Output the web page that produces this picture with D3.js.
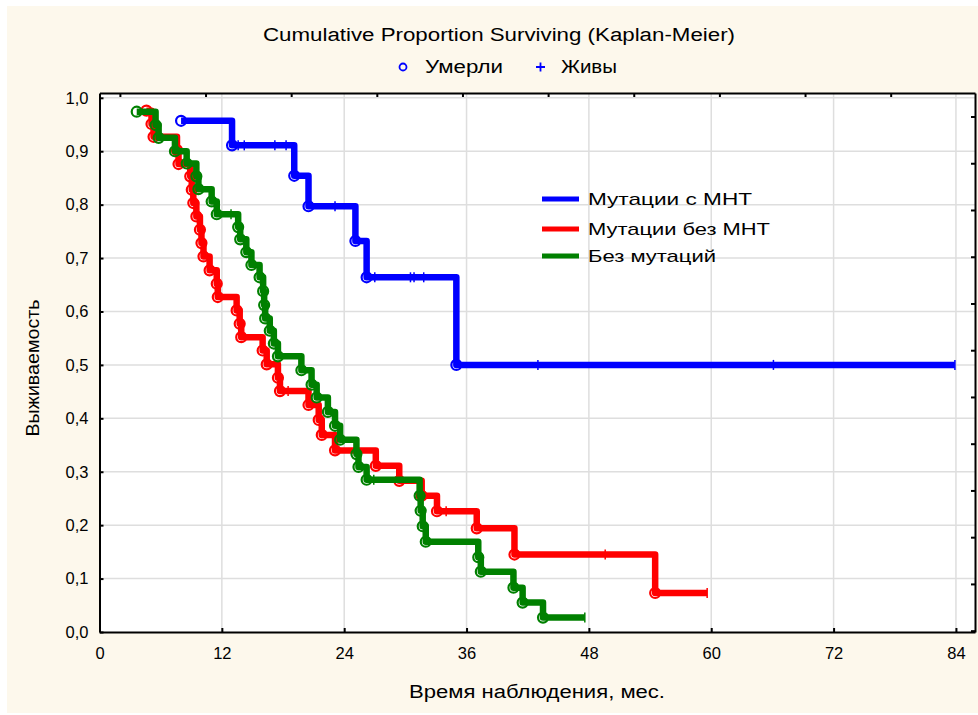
<!DOCTYPE html>
<html>
<head>
<meta charset="utf-8">
<script src="https://cdn.jsdelivr.net/npm/d3@7"></script>
<style>
  body { margin: 0; background: #fff; }
  svg { display: block; font-family: "Liberation Sans", Arial, sans-serif; }
</style>
</head>
<body>
<svg id="chart" width="978" height="715"></svg>
<script>
// step points: time (months) and survival after the step
const blueTimes = [8.0, 13.0, 19.1, 20.5, 25.1, 26.2, 35.0];
const blueSurv = [0.957, 0.911, 0.854, 0.797, 0.732, 0.664, 0.5];
const blueCensor = [13.6, 14.2, 17.2, 18.3, 23.1, 27.0, 30.5, 30.85, 31.8, 43.0, 66.1, 83.9];
const blueEnd = 83.9;

const redTimes = [4.6, 5.1, 5.3, 7.6, 7.75, 8.9, 9.05, 9.2, 9.5, 9.85, 10.0, 10.2, 10.8, 11.5, 11.6,
  13.45, 13.75, 13.9, 16.0, 16.4, 17.5, 17.7, 20.5, 21.5, 21.8, 23.1, 27.1, 29.4, 31.6, 33.1, 37.0, 40.7, 54.5];
const redSurv = [0.976, 0.951, 0.927, 0.902, 0.876, 0.853, 0.828, 0.803, 0.778, 0.753, 0.728, 0.703, 0.677, 0.652, 0.627,
  0.602, 0.577, 0.552, 0.527, 0.501, 0.476, 0.451, 0.425, 0.397, 0.369, 0.340, 0.311, 0.283, 0.255, 0.226, 0.194, 0.145, 0.073];
const redCensor = [18.5, 34.0, 49.6, 59.6];
const redEnd = 59.6;

const greenTimes = [3.65, 5.5, 5.8, 7.4, 8.55, 9.5, 9.7, 11.0, 11.5, 13.6, 13.8, 14.4, 14.9, 15.7, 16.05,
  16.15, 16.25, 16.7, 17.1, 17.5, 19.8, 20.8, 21.3, 22.4, 23.1, 23.6, 25.2, 25.4, 26.2, 31.4, 31.5, 31.7, 32.0,
  37.15, 37.4, 40.6, 41.5, 43.5];
const greenSurv = [0.974, 0.949, 0.925, 0.9, 0.877, 0.853, 0.829, 0.806, 0.782, 0.758, 0.735, 0.711, 0.687, 0.664, 0.638,
  0.612, 0.587, 0.564, 0.540, 0.516, 0.490, 0.463, 0.439, 0.412, 0.386, 0.360, 0.333, 0.309, 0.285, 0.255, 0.227, 0.198, 0.169,
  0.140, 0.113, 0.083, 0.055, 0.027];
const greenCensor = [12.9, 26.9, 47.6];
const greenEnd = 47.6;

const seriesNames = ['Мутации с МНТ', 'Мутации без МНТ', 'Без мутаций'];
const seriesColors = ['#0000ff', '#ff0000', '#008000'];
const xTicks = [0, 12, 24, 36, 48, 60, 72, 84];
const yTicks = [0, 0.1, 0.2, 0.3, 0.4, 0.5, 0.6, 0.7, 0.8, 0.9, 1.0];

const series = [
  {times: blueTimes, surv: blueSurv, censor: blueCensor, end: blueEnd},
  {times: redTimes, surv: redSurv, censor: redCensor, end: redEnd},
  {times: greenTimes, surv: greenSurv, censor: greenCensor, end: greenEnd}
].map((s, i) => Object.assign(s, {name: seriesNames[i], color: seriesColors[i]}));

const svg = d3.select('#chart');

svg.append('rect')
  .attr('x', 7).attr('y', 6).attr('width', 971).attr('height', 707)
  .attr('fill', '#fdf8ec');

const x = d3.scaleLinear().domain([0, 85.87]).range([99.5, 975]);
const y = d3.scaleLinear().domain([0, 1.009]).range([632, 93]);

svg.append('rect')
  .attr('x', x(0)).attr('y', y(1.009))
  .attr('width', x(85.87) - x(0)).attr('height', y(0) - y(1.009))
  .attr('fill', '#fff');

// grid
const grid = svg.append('g').attr('stroke', '#dedede').attr('stroke-width', 1.5);
grid.selectAll('.gx').data(xTicks.slice(1))
  .enter().append('line')
  .attr('x1', d => x(d)).attr('x2', d => x(d))
  .attr('y1', y(0)).attr('y2', y(1.009));
grid.selectAll('.gy').data(yTicks.slice(1))
  .enter().append('line')
  .attr('x1', x(0)).attr('x2', x(85.87))
  .attr('y1', d => y(d)).attr('y2', d => y(d));

const fmt = d => d3.format('.1f')(d).replace('.', ',');

const styleAxis = g => {
  g.select('.domain').attr('stroke', '#000').attr('stroke-width', 2);
  g.selectAll('.tick line').attr('stroke', '#000').attr('stroke-width', 2);
  g.selectAll('.tick text').attr('fill', '#000').style('font-size', '16.5px')
    .style('font-family', '"Liberation Sans", Arial, sans-serif');
};

svg.append('g')
  .attr('transform', `translate(0,${y(0)})`)
  .call(d3.axisBottom(x).tickValues(xTicks).tickSizeInner(-4).tickSizeOuter(0).tickPadding(15))
  .call(styleAxis);

svg.append('g')
  .attr('transform', `translate(${x(0)},0)`)
  .call(d3.axisLeft(y).tickValues(yTicks).tickFormat(fmt).tickSizeInner(-4).tickSizeOuter(0).tickPadding(11))
  .call(styleAxis);

svg.append('g')
  .attr('transform', `translate(0,${y(1.009)})`)
  .call(d3.axisTop(x).tickValues(d3.range(2, 80, 8.4)).tickFormat('').tickSizeInner(-4).tickSizeOuter(0))
  .call(styleAxis);

svg.append('g')
  .attr('transform', `translate(${x(85.87)},0)`)
  .call(d3.axisRight(y).tickValues(d3.range(0.965, 0, -0.0875)).tickFormat('').tickSizeInner(-4).tickSizeOuter(0))
  .call(styleAxis);

// curves
const line = d3.line()
  .x(d => x(d[0]))
  .y(d => y(d[1]))
  .curve(d3.curveStepAfter);

const levelAt = (s, t) => s.surv[Math.max(0, d3.bisectRight(s.times, t) - 1)];

series.forEach(s => {
  const pts = s.times.map((t, i) => [t, s.surv[i]]);
  pts.push([s.end, s.surv[s.surv.length - 1]]);
  const g = svg.append('g');
  g.append('path')
    .attr('d', line(pts))
    .attr('fill', 'none')
    .attr('stroke', s.color)
    .attr('stroke-width', 6.5)
    .attr('stroke-linejoin', 'round');
  g.selectAll('circle').data(s.times)
    .enter().append('circle')
    .attr('cx', (t, i) => x(t))
    .attr('cy', (t, i) => y(s.surv[i]))
    .attr('r', 5)
    .attr('fill', 'none')
    .attr('stroke', s.color)
    .attr('stroke-width', 2.2);
  g.selectAll('.cens').data(s.censor)
    .enter().append('line')
    .attr('x1', t => x(t)).attr('x2', t => x(t))
    .attr('y1', t => y(levelAt(s, t)) - 5)
    .attr('y2', t => y(levelAt(s, t)) + 5)
    .attr('stroke', s.color)
    .attr('stroke-width', 1.5);
});

// legend inside plot
const leg = svg.append('g');
const legY = [199, 229, 256];
const legLen = [164, 182, 128];
series.forEach((s, i) => {
  leg.append('line')
    .attr('x1', 542).attr('x2', 579)
    .attr('y1', legY[i]).attr('y2', legY[i])
    .attr('stroke', s.color).attr('stroke-width', 5);
  leg.append('text')
    .attr('x', 588).attr('y', legY[i]).attr('dy', '0.35em')
    .attr('textLength', legLen[i]).attr('lengthAdjust', 'spacingAndGlyphs')
    .style('font-size', '17px')
    .text(s.name);
});

// title and top legend
svg.append('text')
  .attr('x', 499).attr('y', 35).attr('dy', '0.35em')
  .attr('text-anchor', 'middle')
  .attr('textLength', 472).attr('lengthAdjust', 'spacingAndGlyphs')
  .style('font-size', '18px')
  .text('Cumulative Proportion Surviving (Kaplan-Meier)');

svg.append('circle')
  .attr('cx', 403).attr('cy', 67).attr('r', 3.5)
  .attr('fill', 'none').attr('stroke', '#0000ff').attr('stroke-width', 1.8);
svg.append('text')
  .attr('x', 425).attr('y', 67).attr('dy', '0.35em')
  .attr('textLength', 78).attr('lengthAdjust', 'spacingAndGlyphs')
  .style('font-size', '18px')
  .text('Умерли');
svg.append('path')
  .attr('d', 'M536,67h9M540.5,62.5v9')
  .attr('stroke', '#0000ff').attr('stroke-width', 1.8);
svg.append('text')
  .attr('x', 561).attr('y', 67).attr('dy', '0.35em')
  .attr('textLength', 56).attr('lengthAdjust', 'spacingAndGlyphs')
  .style('font-size', '18px')
  .text('Живы');

// axis titles
svg.append('text')
  .attr('x', 537).attr('y', 692).attr('dy', '0.35em')
  .attr('text-anchor', 'middle')
  .attr('textLength', 256).attr('lengthAdjust', 'spacingAndGlyphs')
  .style('font-size', '18px')
  .text('Время наблюдения, мес.');

svg.append('text')
  .attr('transform', 'translate(33,368) rotate(-90)')
  .attr('dy', '0.35em')
  .attr('text-anchor', 'middle')
  .attr('textLength', 137).attr('lengthAdjust', 'spacingAndGlyphs')
  .style('font-size', '18px')
  .text('Выживаемость');
</script>
</body>
</html>
